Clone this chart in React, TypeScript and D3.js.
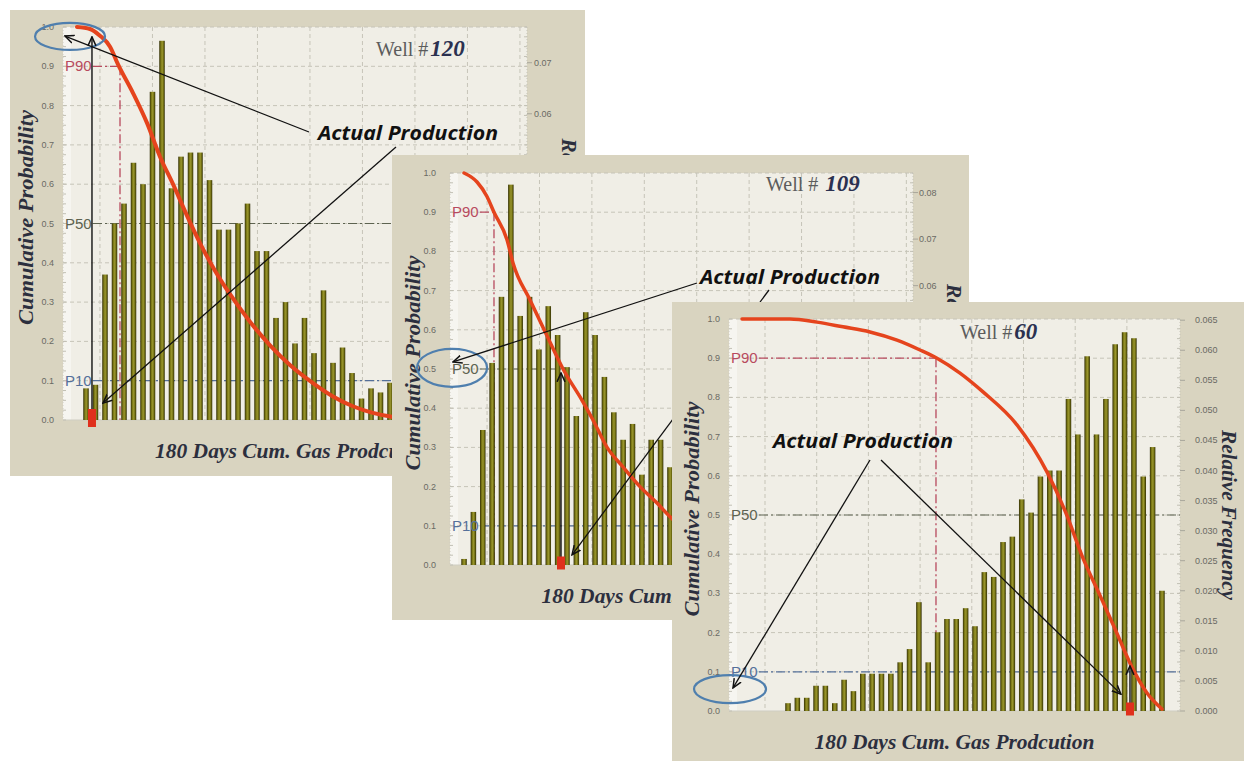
import React from 'react';
import * as d3 from 'd3';

// Shared axis values
const probTicks = [0, 0.1, 0.2, 0.3, 0.4, 0.5, 0.6, 0.7, 0.8, 0.9, 1.0];
const percentileNames = ['P90', 'P50', 'P10'];
const percentileProbs = [0.9, 0.5, 0.1];

// Well #120 — relative frequency per production bin, and exceedance curve (bin, probability)
const well120Freq = [0.0062, 0.0069, 0.0285, 0.0385, 0.0424, 0.0504, 0.0462, 0.0643, 0.0743, 0.0454, 0.0516, 0.0524, 0.0524, 0.047, 0.0373, 0.0373, 0.0385, 0.0424, 0.0331, 0.0331, 0.02, 0.0231, 0.015, 0.02, 0.0131, 0.0254, 0.0112, 0.0142, 0.0092, 0.0042, 0.0062, 0.0054, 0.0073];
const well120CurveBin = [-0.95, 0.42, 1.47, 2.53, 3.37, 4.95, 6.42, 7.79, 9.16, 10.63, 12.0, 13.58, 15.16, 17.26, 19.37, 21.47, 23.89, 26.0, 28.1, 30.2, 32.2, 35.2, 39.4];
const well120CurveProb = [1.0, 0.995, 0.978, 0.95, 0.905, 0.832, 0.756, 0.67, 0.6, 0.52, 0.45, 0.38, 0.32, 0.25, 0.19, 0.14, 0.094, 0.06, 0.035, 0.018, 0.008, 0.002, 0];
const well120RelTicks = [0, 0.01, 0.02, 0.03, 0.04, 0.05, 0.06, 0.07];

// Well #109
const well109Freq = [0.0013, 0.0114, 0.029, 0.0434, 0.0576, 0.0817, 0.0535, 0.0576, 0.0463, 0.0556, 0.0494, 0.0425, 0.032, 0.0543, 0.0494, 0.0404, 0.0328, 0.0269, 0.0303, 0.0194, 0.0269, 0.0269, 0.021];
const well109CurveBin = [0, 1.39, 2.45, 3.2, 4.59, 5.24, 7.05, 8.76, 10.58, 12.61, 13.78, 15.28, 16.99, 18.8, 20.62, 22.01, 25.21, 29.49, 35.9, 42.3];
const well109CurveProb = [1.0, 0.977, 0.94, 0.9, 0.83, 0.77, 0.676, 0.59, 0.5, 0.42, 0.37, 0.3, 0.25, 0.2, 0.158, 0.123, 0.07, 0.03, 0.01, 0];
const well109RelTicks = [0, 0.01, 0.02, 0.03, 0.04, 0.05, 0.06, 0.07, 0.08];

// Well #60
const well60Freq = [0.0013, 0.0022, 0.0022, 0.0042, 0.0042, 0.0013, 0.0052, 0.0033, 0.0062, 0.0062, 0.0062, 0.0062, 0.0081, 0.0103, 0.0181, 0.0081, 0.0131, 0.0153, 0.0153, 0.0171, 0.0141, 0.0231, 0.0223, 0.0281, 0.029, 0.0352, 0.033, 0.039, 0.04, 0.04, 0.0519, 0.046, 0.059, 0.046, 0.0519, 0.061, 0.063, 0.062, 0.039, 0.0439, 0.02];
const well60CurveBin = [-4.92, 0.21, 3.1, 5.88, 8.77, 11.66, 14.12, 15.94, 18.4, 20.86, 24.49, 27.7, 29.73, 31.55, 33.37, 34.97, 36.79, 38.4, 40.0];
const well60CurveProb = [1.0, 1.0, 0.992, 0.98, 0.967, 0.946, 0.921, 0.9, 0.862, 0.814, 0.73, 0.61, 0.505, 0.39, 0.295, 0.21, 0.112, 0.046, 0.005];
const well60RelTicks = [0, 0.005, 0.01, 0.015, 0.02, 0.025, 0.03, 0.035, 0.04, 0.045, 0.05, 0.055, 0.06, 0.065];

// Actual production of each well (bin) and the probability it reads on the curve
const wellNumbers = ['120', '109', '60'];
const actualBins = [0.63, 10.36, 36.58];
const actualProbs = [0.975, 0.49, 0.115];
const p90Bins = [3.58, 3.2, 15.83];

const noteText = 'Actual Production';
const xTitleText = '180 Days Cum. Gas Prodcution';
const yTitleText = 'Cumulative Probability';
const rTitleText = 'Relative Frequency';

type Layout = {
  frame: [number, number, number, number];
  plot: [number, number, number, number];
  xDomain: [number, number];
  relMax: number;
  relFmt: string;
  gridStart: number;
  gridStep: number;
  leftGap: number;
  rightGap: number;
  rTitleGap: number;
  wellPos: [number, number];
  wellSep: string;
  notePos: [number, number];
  ellipse: { bin: number; prob: number; rx: number; ry: number };
  arrows: { from: [number, number]; bin: number; prob: number }[];
  p50EndBin: number | null;
  curveWidth: number;
  markerH: number;
};

const layouts: Layout[] = [
  {
    frame: [10, 10, 575, 466],
    plot: [63, 27, 527, 420],
    xDomain: [-2.42, 46.42],
    relMax: 0.077,
    relFmt: '.2f',
    gridStart: 1.47,
    gridStep: 5.526,
    leftGap: 9,
    rightGap: 7,
    rTitleGap: 35,
    wellPos: [376, 56],
    wellSep: '',
    notePos: [318, 140],
    ellipse: { bin: -1.68, prob: 0.976, rx: 35, ry: 13.5 },
    arrows: [
      { from: [309, 132], bin: -2.21, prob: 0.977 },
      { from: [396, 147], bin: 1.79, prob: 0.043 },
    ],
    p50EndBin: null,
    curveWidth: 4,
    markerH: 18,
  },
  {
    frame: [392, 155, 577, 465],
    plot: [450, 173, 913, 565],
    xDomain: [-1.5, 47.97],
    relMax: 0.0842,
    relFmt: '.2f',
    gridStart: 2.46,
    gridStep: 5.6,
    leftGap: 14,
    rightGap: 6,
    rTitleGap: 34,
    wellPos: [766, 191],
    wellSep: ' ',
    notePos: [700, 284],
    ellipse: { bin: -1.28, prob: 0.503, rx: 35, ry: 19 },
    arrows: [
      { from: [697, 283], bin: -1.18, prob: 0.518 },
      { from: [769, 290], bin: 11.54, prob: 0.026 },
    ],
    p50EndBin: 10.36,
    curveWidth: 3.5,
    markerH: 13,
  },
  {
    frame: [672, 302, 572, 459],
    plot: [729, 319, 1180, 711],
    xDomain: [-6.31, 41.93],
    relMax: 0.0652,
    relFmt: '.3f',
    gridStart: -2.46,
    gridStep: 5.53,
    leftGap: 9,
    rightGap: 15,
    rTitleGap: 42,
    wellPos: [960, 339],
    wellSep: '',
    notePos: [773, 448],
    ellipse: { bin: -6.2, prob: 0.056, rx: 36, ry: 14 },
    arrows: [
      { from: [870, 460], bin: -5.88, prob: 0.059 },
      { from: [881, 460], bin: 35.61, prob: 0.043 },
    ],
    p50EndBin: null,
    curveWidth: 3.5,
    markerH: 13,
  },
];

const series = [
  { freq: well120Freq, cb: well120CurveBin, cp: well120CurveProb, relTicks: well120RelTicks },
  { freq: well109Freq, cb: well109CurveBin, cp: well109CurveProb, relTicks: well109RelTicks },
  { freq: well60Freq, cb: well60CurveBin, cp: well60CurveProb, relTicks: well60RelTicks },
];

const pColors = ['#b84a5e', '#5d6350', '#55709a'];
const SANS = "'Liberation Sans', Arial, sans-serif";
const SERIF = "'Liberation Serif', 'Times New Roman', serif";
const NOTE = "'Open Sans', 'Liberation Sans', sans-serif";
const W = 1244;
const H = 761;

// Region of the canvas not hidden by the panels stacked above panel idx
function clipPathFor(idx: number) {
  let d = `M0,0H${W}V${H}H0Z`;
  layouts.slice(idx + 1).forEach((l) => {
    const [fx, fy, fw, fh] = l.frame;
    d += `M${fx},${fy}H${fx + fw}V${fy + fh}H${fx}Z`;
  });
  return d;
}

function Panel({ idx }: { idx: number }) {
  const lay = layouts[idx];
  const s = series[idx];
  const [fx, fy, fw, fh] = lay.frame;
  const [pl, pt, pr, pb] = lay.plot;
  const x = d3.scaleLinear().domain(lay.xDomain).range([pl, pr]);
  const y = d3.scaleLinear().domain([0, 1]).range([pb, pt]);
  const yr = d3.scaleLinear().domain([0, lay.relMax]).range([pb, pt]);
  const gridBins = d3.range(lay.gridStart, lay.xDomain[1] - 0.4, lay.gridStep);
  const minor = d3.range(0, 1.0001, 0.025);
  const curve = d3
    .line<number>()
    .x((d) => x(d))
    .y((_, i) => y(s.cp[i]))
    .curve(d3.curveMonotoneX)(s.cb) as string;
  const fmtRel = d3.format(lay.relFmt);
  const fmtProb = d3.format('.1f');
  const dashDot = '9,3,2,3';
  const labelEnd = pl + 30;
  const p90x = x(p90Bins[idx]);
  const ax = x(actualBins[idx]);
  const barW = 5.5;
  const cy = (pt + pb) / 2 - 6;
  const titleProps = {
    fontFamily: SERIF,
    fontSize: 21,
    fontWeight: 'bold' as const,
    fontStyle: 'italic' as const,
    fill: '#2c2f3e',
    lengthAdjust: 'spacingAndGlyphs' as const,
  };

  return (
    <g clipPath={`url(#clip${idx})`}>
      <rect x={fx} y={fy} width={fw} height={fh} fill="#d9d4c0" />
      <rect x={pl} y={pt} width={pr - pl} height={pb - pt} fill="#f0eee6" />
      <rect x={pl} y={pt} width={8} height={pb - pt} fill="#f6f5f0" />

      {/* grid */}
      {probTicks.slice(1).map((t) => (
        <line key={'h' + t} x1={pl} x2={pr} y1={y(t)} y2={y(t)} stroke="#c6c4b8" strokeDasharray="4,3" />
      ))}
      {gridBins.map((g) => (
        <line key={'v' + g} x1={x(g)} x2={x(g)} y1={pt} y2={pb} stroke="#c6c4b8" strokeDasharray="4,3" />
      ))}
      <line x1={pr} x2={pr} y1={pt} y2={pb} stroke="#c6c4b8" strokeDasharray="1,2" />
      <line x1={pl} x2={pl} y1={pt} y2={pb} stroke="#cfcdc2" strokeDasharray="1,2" />
      <line x1={pl} x2={pr} y1={pb} y2={pb} stroke="#cfcdc2" />
      {minor.map((m) => (
        <g key={'m' + m}>
          <line x1={pl} x2={pl + 3} y1={y(m)} y2={y(m)} stroke="#c2c0b4" />
          <line x1={pr - 3} x2={pr} y1={y(m)} y2={y(m)} stroke="#c2c0b4" />
        </g>
      ))}

      {/* percentile reference lines */}
      <line x1={labelEnd} x2={p90x} y1={y(0.9)} y2={y(0.9)} stroke={pColors[0]} strokeWidth={1.3} strokeDasharray={dashDot} />
      <line x1={p90x} x2={p90x} y1={y(0.9)} y2={pb} stroke={pColors[0]} strokeWidth={1.3} strokeDasharray={dashDot} />
      <line
        x1={labelEnd}
        x2={lay.p50EndBin === null ? pr : x(lay.p50EndBin)}
        y1={y(0.5)}
        y2={y(0.5)}
        stroke={pColors[1]}
        strokeWidth={1.2}
        strokeDasharray={dashDot}
      />
      <line x1={labelEnd} x2={pr} y1={y(0.1)} y2={y(0.1)} stroke={pColors[2]} strokeWidth={1.2} strokeDasharray={dashDot} />

      {/* histogram */}
      {s.freq.map((v, i) => (
        <rect key={'b' + i} x={x(i) - barW / 2} y={yr(v)} width={barW} height={pb - yr(v)} fill="url(#barGrad)" />
      ))}

      {/* cumulative probability */}
      <path d={curve} fill="none" stroke="#e5441d" strokeWidth={lay.curveWidth} strokeLinejoin="round" strokeLinecap="round" />

      {/* percentile labels */}
      {percentileNames.map((n, i) => (
        <text key={n} x={pl + 2} y={y(percentileProbs[i]) + 5} fontFamily={SANS} fontSize={15} fill={pColors[i]}>
          {n}
        </text>
      ))}

      {/* left axis */}
      {probTicks.map((t) => (
        <text key={'l' + t} x={pl - lay.leftGap} y={y(t) + 3} textAnchor="end" fontFamily={SANS} fontSize={9} fill="#6a6a64">
          {fmtProb(t)}
        </text>
      ))}

      {/* right axis */}
      {s.relTicks.map((t) => (
        <g key={'r' + t}>
          <line x1={pr} x2={pr + 5} y1={yr(t)} y2={yr(t)} stroke="#a9a79c" />
          <text x={pr + lay.rightGap} y={yr(t) + 3} fontFamily={SANS} fontSize={9} fill="#6a6a64">
            {fmtRel(t)}
          </text>
        </g>
      ))}

      {/* titles */}
      <text transform={`translate(${pl - 30},${cy}) rotate(-90)`} textAnchor="middle" textLength={215} {...titleProps}>
        {yTitleText}
      </text>
      <text transform={`translate(${pr + lay.rTitleGap},${cy + 6}) rotate(90)`} textAnchor="middle" textLength={170} {...titleProps}>
        {rTitleText}
      </text>
      <text x={(pl + pr) / 2} y={pb + 38} textAnchor="middle" textLength={280} {...titleProps}>
        {xTitleText}
      </text>
      <text x={lay.wellPos[0]} y={lay.wellPos[1]} fontFamily={SERIF} fontSize={20} fill="#5c5c5c">
        {'Well #' + lay.wellSep}
        <tspan dx={2} fontSize={23} fontWeight="bold" fontStyle="italic" fill="#2b3150">
          {wellNumbers[idx]}
        </tspan>
      </text>

      {/* actual production annotation */}
      <ellipse
        cx={x(lay.ellipse.bin)}
        cy={y(lay.ellipse.prob)}
        rx={lay.ellipse.rx}
        ry={lay.ellipse.ry}
        fill="none"
        stroke="#4f7fae"
        strokeWidth={2.2}
      />
      <line x1={ax} x2={ax} y1={pb - 2} y2={y(actualProbs[idx])} stroke="#111" strokeWidth={1.4} markerEnd="url(#arrowHead)" />
      <rect x={ax - 4} y={pb - lay.markerH / 2 - 2} width={8} height={lay.markerH} fill="#e0301c" />
      {lay.arrows.map((a, i) => (
        <line
          key={'a' + i}
          x1={a.from[0]}
          y1={a.from[1]}
          x2={x(a.bin)}
          y2={y(a.prob)}
          stroke="#111"
          strokeWidth={1.3}
          markerEnd="url(#arrowHead)"
        />
      ))}
      <text
        x={lay.notePos[0]}
        y={lay.notePos[1]}
        fontFamily={NOTE}
        fontSize={19}
        fontWeight="bold"
        fontStyle="italic"
        fill="#111"
        textLength={180}
        lengthAdjust="spacingAndGlyphs"
      >
        {noteText}
      </text>
    </g>
  );
}

export default function App() {
  return (
    <svg width={W} height={H} style={{ position: 'absolute', left: 0, top: 0, background: '#ffffff' }}>
      <defs>
        <linearGradient id="barGrad" x1="0" x2="1" y1="0" y2="0">
          <stop offset="0" stopColor="#312e07" />
          <stop offset="0.3" stopColor="#7c7916" />
          <stop offset="0.55" stopColor="#9a962e" />
          <stop offset="0.8" stopColor="#69660f" />
          <stop offset="1" stopColor="#2b2905" />
        </linearGradient>
        <marker
          id="arrowHead"
          viewBox="0 0 10 10"
          refX="9"
          refY="5"
          markerWidth="10"
          markerHeight="10"
          markerUnits="userSpaceOnUse"
          orient="auto"
        >
          <path d="M0,1 L9,5 L0,9" fill="none" stroke="#111" strokeWidth="1.5" />
        </marker>
        {layouts.map((_, i) => (
          <clipPath key={i} id={`clip${i}`}>
            <path d={clipPathFor(i)} clipRule="evenodd" />
          </clipPath>
        ))}
      </defs>
      <rect x={0} y={0} width={W} height={H} fill="#ffffff" />
      <Panel idx={0} />
      <Panel idx={1} />
      <Panel idx={2} />
    </svg>
  );
}
